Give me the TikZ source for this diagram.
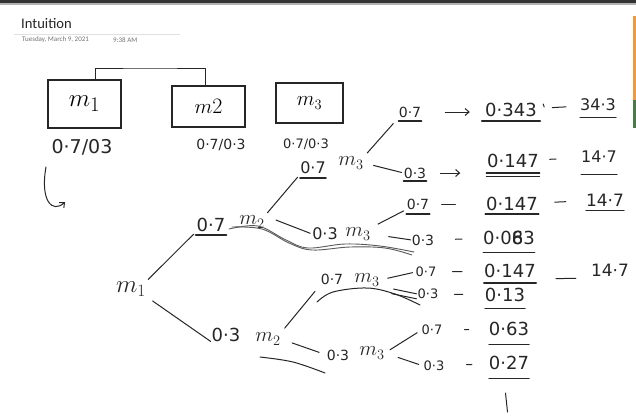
\documentclass[tikz,border=0pt]{standalone}
\usepackage{fontspec}
\usetikzlibrary{arrows.meta}
\newfontfamily\uifont{Carlito}
\newfontfamily\hand{DejaVu Sans}
\newcommand\fsz[1]{\fontsize{#1}{#1}\selectfont}
% underline below a node: \ulin[style]{node}{drop}
\newcommand\ulin[3][]{\draw[ink,#1] ([yshift=-#3pt]#2.south west) -- ([yshift=-#3pt]#2.south east);}
\begin{document}
\begin{tikzpicture}[x=1pt,y=-1pt,
  ink/.style={line width=1pt, black!85, line cap=round, line join=round},
  heavy/.style={ink, line width=2pt},
  smear/.style={line width=0.9pt, black!65, line cap=round},
  hw/.style={inner sep=0pt, text=black!85},
  boxy/.style={draw=black!85, line width=1.1pt, inner sep=0pt},
  tip/.style={-{Straight Barb[length=4pt,width=7pt]}},
  lbl/.style={hw, font=\hand\fsz{14}},
  num/.style={hw, font=\hand\fsz{18}},
  mid/.style={hw, font=\hand\fsz{16}},
  emm/.style={hw, font=\fsz{20}}]
\useasboundingbox (0,0) rectangle (636,418);
\fill[white] (0,0) rectangle (636,418);

% window chrome
\fill[black!80] (0,0) rectangle (636,3);
\fill[black!30] (0,3) rectangle (636,4.5);
\fill[orange!65!brown!80] (633,16) rectangle (636,100);
\fill[green!25!black!70] (633,100) rectangle (636,128);

% page header
\node[anchor=west, inner sep=0pt, font=\uifont\fsz{14.6}, text=black!85] (title) at (21,24) {Intuition};
\draw[black!12, line width=0.6pt] (14,34) -- (180,34);
\node[anchor=west, inner sep=0pt, font=\uifont\fsz{7}, text=black!55] (date) at (22,40) {Tuesday, March 9, 2021};
\node[anchor=west, inner sep=0pt, font=\uifont\fsz{7}, text=black!55] (time) at (113,40) {9:38 AM};

% the three boxes
\node[boxy, minimum width=73pt, minimum height=48pt, font=\fsz{28}] (bx1) at (84.5,104) {$m_1$};
\node[boxy, minimum width=73pt, minimum height=41pt, font=\fsz{22}] (bx2) at (208.5,106.5) {$m$2};
\node[boxy, minimum width=67pt, minimum height=40pt, font=\fsz{22}] (bx3) at (309.5,103) {$m_3$};
\coordinate (brk) at (150,68);
\draw[ink] ([xshift=10.5pt]bx1.north) |- (brk) -| ([xshift=-3.5pt]bx2.north);

\node[hw, font=\hand\fsz{19}] (r1) at (82,147) {0·7/03};
\node[hw, font=\hand\fsz{14}] (r2) at (221,145) {0·7/0·3};
\node[hw, font=\hand\fsz{13}] (r3) at (306,144) {0·7/0·3};

% curved pointer
\coordinate (ca) at (46,167);
\coordinate (cb) at (65,202);
\draw[ink, tip] (ca) .. controls (40,200) and (52,214) .. (cb);

% tree
\node[hw, font=\fsz{24}] (t0) at (131,289) {$m_1$};
\node[hw, font=\hand\fsz{18}, minimum width=30pt] (N1) at (211,225) {0·7};
\node[emm] (M1) at (252,222) {$m_2$};
\node[hw, font=\hand\fsz{18}] (N2) at (226,335) {0·3};
\node[emm] (M2) at (268,339) {$m_2$};

\node[mid, minimum width=20pt] (U) at (313,168) {0·7};
\node[emm] (UM) at (351,163) {$m_3$};
\node[mid] (V) at (325,234) {0·3};
\node[emm] (VM) at (358,234) {$m_3$};
\node[hw, font=\hand\fsz{14}] (W) at (332,279) {0·7};
\node[emm] (WM) at (367,280) {$m_3$};
\node[hw, font=\hand\fsz{14}] (X) at (338,355) {0·3};
\node[emm] (XM) at (372,353) {$m_3$};

\node[lbl, minimum width=22pt] (L1) at (410,112) {0·7};
\node[lbl, minimum width=22pt] (L2) at (415,173) {0·3};
\node[lbl, minimum width=23pt] (L3) at (418,204) {0·7};
\node[lbl] (L4) at (423,240) {0·3};
\node[hw, font=\hand\fsz{13}] (L5) at (426,272) {0·7};
\node[hw, font=\hand\fsz{13}] (L6) at (428,294) {0·3};
\node[hw, font=\hand\fsz{13}] (L7) at (432,330) {0·7};
\node[hw, font=\hand\fsz{13}] (L8) at (434,366) {0·3};

\node[num, minimum width=58pt] (P1) at (511,110) {0·343};
\node[num, minimum width=53pt] (P2) at (513,161) {0·147};
\node[num, minimum width=53pt] (P3) at (512,204) {0·147};
\node[num, minimum width=46pt] (P4) at (509,238) {0·0\rlap{6}83};
\node[num, minimum width=50pt] (P5) at (510,271) {0·147};
\node[num, minimum width=36pt] (P6) at (505,295) {0·13};
\node[num, minimum width=37pt] (P7) at (509,329) {0·63};
\node[num, minimum width=37pt] (P8) at (509,363) {0·27};

\node[hw, font=\hand\fsz{16}, minimum width=28pt] (R1) at (598,105) {34·3};
\node[hw, font=\hand\fsz{16}, minimum width=26pt] (R2) at (599,157) {14·7};
\node[hw, font=\hand\fsz{17}, minimum width=34pt] (R3) at (605,200) {14·7};
\node[hw, font=\hand\fsz{17}] (R5) at (610,270) {14·7};

% tree branches
\draw[ink, shorten <=3pt, shorten >=3pt] (t0.north east) -- (N1.south west);
\draw[ink, shorten <=8pt, shorten >=1pt] (t0.south east) -- (N2.south west);
\draw[ink, shorten <=4pt, shorten >=4pt] (M1.north east) -- (U.south west);
\draw[ink, shorten <=12pt, shorten >=2pt] (M1.north east) -- (V.west);
\draw[ink, shorten <=5pt, shorten >=8pt] (UM.north east) -- (L1.south west);
\draw[ink, shorten <=10pt, shorten >=2pt] (UM.east) -- (L2.west);
\draw[ink, shorten <=8pt, shorten >=3pt] (VM.north east) -- (L3.south west);
\draw[ink, shorten <=18pt, shorten >=1pt] (VM.east) -- (L4.west);
\draw[ink, shorten <=6pt, shorten >=9pt] (M2.north east) -- (W.south west);
\draw[ink, shorten <=12pt, shorten >=8pt] (M2.east) -- (X.west);
\draw[ink, shorten <=8pt, shorten >=3pt] (WM.east) -- (L5.west);
\draw[ink, shorten <=14pt, shorten >=1pt] (WM.south east) -- (L6.west);
\draw[ink, shorten <=12pt, shorten >=1pt] ([yshift=-5pt]WM.south east) -- ([yshift=-5pt]L6.west);
\draw[ink, shorten <=6pt, shorten >=5pt] (XM.east) -- (L7.west);
\draw[ink, shorten <=14pt, shorten >=5pt] (XM.east) -- (L8.west);

% arrows and dashes along each row
\draw[ink, tip, shorten <=24pt, shorten >=12pt] (L1.east) -- (L1.east -| P1.west);
\draw[ink, shorten <=12pt, shorten >=14pt] (P1) -- (R1);
\draw[ink, tip, shorten <=14pt, shorten >=26pt] (L2.east) -- (L2.east -| P2.west);
\draw[ink, shorten <=10pt, shorten >=25pt] (P2) -- (R2);
\draw[ink, shorten <=12pt, shorten >=30pt] (L3) -- (P3);
\draw[ink, shorten <=16pt, shorten >=20pt] (P3) -- (R3);
\draw[ink, shorten <=21pt, shorten >=21pt] (L4) -- (P4);
\draw[ink, shorten <=16pt, shorten >=22pt] (L5) -- (P5);
\draw[ink, shorten <=20pt, shorten >=15pt] ([yshift=-8pt]P5.east) -- ([yshift=-8pt]R5.west);
\draw[ink, shorten <=16pt, shorten >=22pt] (L6) -- (P6);
\draw[ink, shorten <=22pt, shorten >=20pt] (L7) -- (P7);
\draw[ink, shorten <=22pt, shorten >=17pt] (L8) -- (P8);
\draw[ink] ([shift={(3pt,-1pt)}]P1.north east) -- ++(1,3);
\coordinate (sumtop) at (505.5,393);
\draw[ink] (sumtop) -- ++(2,19);

% underlines
\ulin[heavy, line width=2.4pt]{N1}{3}
\ulin[heavy]{U}{4}
\ulin[heavy]{L1}{4}
\ulin[line width=1.6pt]{P1}{4}
\ulin{R1}{6}
\ulin[heavy]{L2}{3}
\ulin[line width=1.2pt]{P2}{5}
\ulin{P2}{8}
\ulin{R2}{11}
\ulin[heavy]{L3}{4}
\ulin[heavy]{P3}{3}
\ulin{R3}{4}
\ulin{P4}{7}
\ulin[heavy, line width=2.2pt]{P5}{5}
\ulin{P6}{6}
\ulin{P7}{8}
\ulin{P8}{8}

% strokes drawn beneath the middle labels
\draw[smear] plot[smooth, tension=0.6] coordinates {(229,229) (258,226) (286,240) (308,248) (345,244) (380,246) (414,252)};
\draw[smear] plot[smooth, tension=0.6] coordinates {(232,227) (262,229) (289,243) (312,250) (350,247) (385,248) (412,255)};
\draw[ink] plot[smooth, tension=0.6] coordinates {(317,302) (333,292) (367,288) (395,294) (420,305)};
\draw[ink] plot[smooth, tension=0.6] coordinates {(260,357) (293,362) (325,373)};
\end{tikzpicture}
\end{document}
